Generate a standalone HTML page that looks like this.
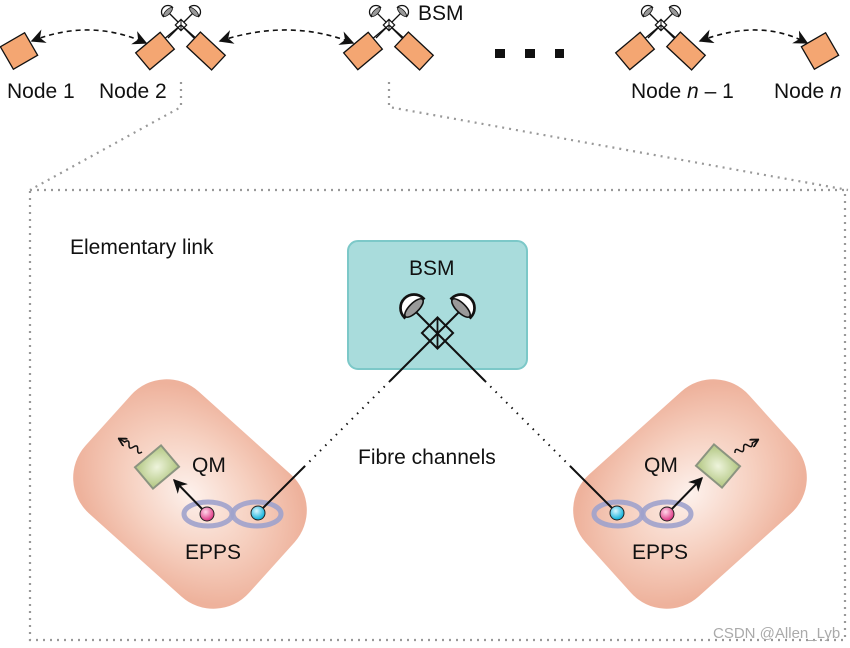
<!DOCTYPE html>
<html><head><meta charset="utf-8"><style>
html,body{margin:0;padding:0;background:#fff}
svg{display:block}
text{font-family:"Liberation Sans",Arial,sans-serif;fill:#111}
</style></head><body>
<svg width="850" height="648" viewBox="0 0 850 648" xmlns="http://www.w3.org/2000/svg">
<defs>
<radialGradient id="pod" cx="50%" cy="50%" r="58%">
<stop offset="0" stop-color="#fdf1ec"/><stop offset="0.55" stop-color="#f6d0c0"/><stop offset="1" stop-color="#eeb29c"/>
</radialGradient>
<radialGradient id="qm" cx="50%" cy="50%" r="60%">
<stop offset="0" stop-color="#eef4dc"/><stop offset="1" stop-color="#b9cc8c"/>
</radialGradient>
<radialGradient id="blue" cx="40%" cy="35%" r="60%"><stop offset="0" stop-color="#d8f6ff"/><stop offset="1" stop-color="#19b4dc"/></radialGradient>
<radialGradient id="pink" cx="40%" cy="35%" r="60%"><stop offset="0" stop-color="#ffd8ea"/><stop offset="1" stop-color="#e0408a"/></radialGradient>
<marker id="ah" viewBox="0 0 10 10" refX="9" refY="5" markerWidth="9" markerHeight="9" orient="auto-start-reverse"><path d="M0,0 L10,5 L0,10 L3,5 Z" fill="#111"/></marker>
<marker id="ah2" viewBox="0 0 10 10" refX="9" refY="5" markerWidth="7" markerHeight="7" orient="auto"><path d="M0,0 L10,5 L0,10 L3,5 Z" fill="#111"/></marker>
<marker id="ah3" viewBox="0 0 10 10" refX="8" refY="5" markerWidth="6" markerHeight="6" orient="auto"><path d="M0,0 L9,5 L0,10" fill="none" stroke="#111" stroke-width="2"/></marker>
<g id="det"><path d="M-10,0 A10,10 0 0 1 10,0 Z" fill="#fff" stroke="#111" stroke-width="2"/><ellipse cx="0" cy="0" rx="9" ry="3.5" fill="#999" stroke="#111" stroke-width="1.2"/></g>
<g id="mini">
<line x1="-13" y1="-13" x2="13" y2="13" stroke="#111" stroke-width="1.3"/>
<line x1="13" y1="-13" x2="-13" y2="13" stroke="#111" stroke-width="1.3"/>
<rect x="-4" y="-4" width="8" height="8" transform="rotate(45)" fill="#fff" stroke="#111" stroke-width="1.2"/>
<line x1="0" y1="-5.5" x2="0" y2="5.5" stroke="#111" stroke-width="1"/>
<use href="#det" transform="translate(-13,-13) rotate(-45) scale(0.65)"/>
<use href="#det" transform="translate(13,-13) rotate(45) scale(0.65)"/>
</g>
</defs>

<!-- top row -->
<use href="#mini" transform="translate(181,25)"/>
<use href="#mini" transform="translate(389,25)"/>
<use href="#mini" transform="translate(661,25)"/>
<line x1="163" y1="40" x2="181" y2="25" stroke="#111" stroke-width="1.3"/>
<line x1="198" y1="40" x2="181" y2="25" stroke="#111" stroke-width="1.3"/>
<line x1="371" y1="40" x2="389" y2="25" stroke="#111" stroke-width="1.3"/>
<line x1="406" y1="40" x2="389" y2="25" stroke="#111" stroke-width="1.3"/>
<line x1="643" y1="40" x2="661" y2="25" stroke="#111" stroke-width="1.3"/>
<line x1="678" y1="40" x2="661" y2="25" stroke="#111" stroke-width="1.3"/>

<rect x="-14" y="-13" width="28" height="26" transform="translate(19,51) rotate(-30)" fill="#f4a672" stroke="#111" stroke-width="1.3"/>
<rect x="-14" y="-13" width="28" height="26" transform="translate(820,51) rotate(-30)" fill="#f4a672" stroke="#111" stroke-width="1.3"/>
<rect x="-16" y="-11" width="32" height="22" transform="translate(155,51) rotate(-40)" fill="#f4a672" stroke="#111" stroke-width="1.3"/>
<rect x="-17" y="-10" width="34" height="20" transform="translate(206,51) rotate(43)" fill="#f4a672" stroke="#111" stroke-width="1.3"/>
<rect x="-16" y="-11" width="32" height="22" transform="translate(363,51) rotate(-40)" fill="#f4a672" stroke="#111" stroke-width="1.3"/>
<rect x="-17" y="-10" width="34" height="20" transform="translate(414,51) rotate(43)" fill="#f4a672" stroke="#111" stroke-width="1.3"/>
<rect x="-16" y="-11" width="32" height="22" transform="translate(635,51) rotate(-40)" fill="#f4a672" stroke="#111" stroke-width="1.3"/>
<rect x="-17" y="-10" width="34" height="20" transform="translate(686,51) rotate(43)" fill="#f4a672" stroke="#111" stroke-width="1.3"/>

<path d="M32,41 Q90,18 146,43" fill="none" stroke="#111" stroke-width="1.6" stroke-dasharray="5,4" marker-start="url(#ah)" marker-end="url(#ah)"/>
<path d="M220,41 Q290,18 353,43" fill="none" stroke="#111" stroke-width="1.6" stroke-dasharray="5,4" marker-start="url(#ah)" marker-end="url(#ah)"/>
<path d="M700,41 Q760,18 807,43" fill="none" stroke="#111" stroke-width="1.6" stroke-dasharray="5,4" marker-start="url(#ah)" marker-end="url(#ah)"/>

<rect x="495" y="49" width="10" height="9" fill="#111"/>
<rect x="525" y="49" width="10" height="9" fill="#111"/>
<rect x="555" y="49" width="9" height="9" fill="#111"/>

<text x="7" y="98" font-size="21">Node 1</text>
<text x="99" y="98" font-size="21">Node 2</text>
<text x="418" y="20" font-size="21">BSM</text>
<text x="631" y="98" font-size="21">Node <tspan font-style="italic">n</tspan> – 1</text>
<text x="774" y="98" font-size="21">Node <tspan font-style="italic">n</tspan></text>

<!-- dotted zoom lines & box -->
<g fill="none" stroke="#999" stroke-width="2.2" stroke-dasharray="2,5">
<path d="M181,82 L181,107 L30,190"/>
<path d="M389,82 L389,107 L848,190"/>
<rect x="30" y="190" width="815" height="450"/>
</g>

<text x="70" y="254" font-size="21">Elementary link</text>

<!-- BSM box -->
<rect x="348" y="241" width="179" height="128" rx="10" fill="#a9dcdc" stroke="#7cc8c8" stroke-width="2"/>
<text x="409" y="275" font-size="21">BSM</text>
<line x1="413" y1="309" x2="485" y2="381" stroke="#111" stroke-width="2"/>
<line x1="462" y1="309" x2="390" y2="381" stroke="#111" stroke-width="2"/>
<rect x="-11" y="-11" width="22" height="22" transform="translate(437.5,333) rotate(45)" fill="none" stroke="#111" stroke-width="2"/>
<line x1="437.5" y1="318" x2="437.5" y2="348" stroke="#111" stroke-width="1.8"/>
<use href="#det" transform="translate(414,308) rotate(-45) scale(1.35)"/>
<use href="#det" transform="translate(461,308) rotate(45) scale(1.35)"/>

<!-- fibre channels -->
<line x1="390" y1="381" x2="305" y2="466" stroke="#111" stroke-width="2" stroke-dasharray="1.5,6"/>
<line x1="485" y1="381" x2="570" y2="466" stroke="#111" stroke-width="2" stroke-dasharray="1.5,6"/>
<text x="358" y="464" font-size="21">Fibre channels</text>

<!-- left pod -->
<rect x="-110" y="-82" width="220" height="164" rx="48" transform="translate(190,494) rotate(42)" fill="url(#pod)"/>
<rect x="-17" y="-14" width="34" height="28" transform="translate(157,467) rotate(-40)" fill="url(#qm)" stroke="#8b9480" stroke-width="2"/>
<path d="M0,0 q2.5,-5 5,0 t5,0 t5,0 t5,0 l6,0" transform="translate(142,452) rotate(-150)" fill="none" stroke="#111" stroke-width="1.5" marker-end="url(#ah3)"/>
<text x="192" y="472" font-size="21">QM</text>
<ellipse cx="208" cy="514" rx="24" ry="12" fill="none" stroke="#9ea2cc" stroke-width="5" opacity="0.9"/>
<ellipse cx="257" cy="514" rx="24" ry="12" fill="none" stroke="#9ea2cc" stroke-width="5" opacity="0.9"/>
<line x1="305" y1="466" x2="258" y2="513" stroke="#111" stroke-width="2"/>
<line x1="207" y1="514" x2="174" y2="480" stroke="#111" stroke-width="2" marker-end="url(#ah2)"/>
<circle cx="207" cy="514" r="7" fill="url(#pink)" stroke="#222" stroke-width="1"/>
<circle cx="258" cy="513" r="7" fill="url(#blue)" stroke="#222" stroke-width="1"/>
<text x="185" y="559" font-size="21">EPPS</text>

<!-- right pod -->
<rect x="-110" y="-82" width="220" height="164" rx="48" transform="translate(690,494) rotate(-42)" fill="url(#pod)"/>
<rect x="-17" y="-14" width="34" height="28" transform="translate(718,466) rotate(40)" fill="url(#qm)" stroke="#8b9480" stroke-width="2"/>
<path d="M0,0 q2.5,-5 5,0 t5,0 t5,0 t5,0 l6,0" transform="translate(735,453) rotate(-30)" fill="none" stroke="#111" stroke-width="1.5" marker-end="url(#ah3)"/>
<text x="644" y="472" font-size="21">QM</text>
<ellipse cx="618" cy="514" rx="24" ry="12" fill="none" stroke="#9ea2cc" stroke-width="5" opacity="0.9"/>
<ellipse cx="667" cy="514" rx="24" ry="12" fill="none" stroke="#9ea2cc" stroke-width="5" opacity="0.9"/>
<line x1="570" y1="466" x2="617" y2="513" stroke="#111" stroke-width="2"/>
<line x1="667" y1="514" x2="702" y2="478" stroke="#111" stroke-width="2" marker-end="url(#ah2)"/>
<circle cx="617" cy="513" r="7" fill="url(#blue)" stroke="#222" stroke-width="1"/>
<circle cx="667" cy="514" r="7" fill="url(#pink)" stroke="#222" stroke-width="1"/>
<text x="632" y="559" font-size="21">EPPS</text>

<text x="713" y="638" font-size="15" style="fill:#aaa">CSDN @Allen_Lyb</text>
</svg>
</body></html>
